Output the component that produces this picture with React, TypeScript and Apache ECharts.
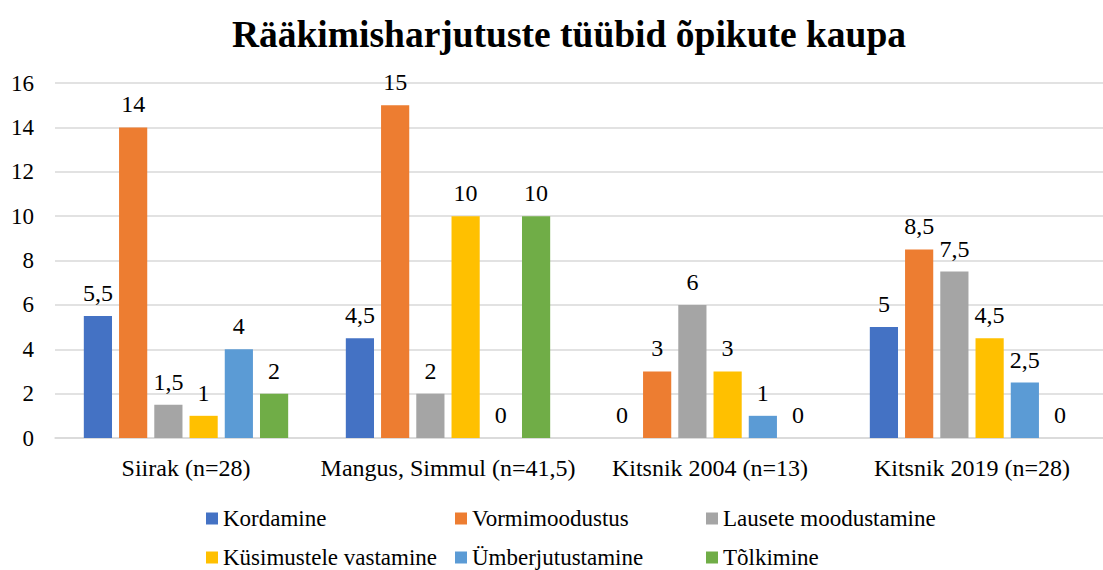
import React, { useEffect, useRef } from "react";
import * as echarts from "echarts";

const categories = ["Siirak (n=28)", "Mangus, Simmul (n=41,5)", "Kitsnik 2004 (n=13)", "Kitsnik 2019 (n=28)"];
const seriesNames = ["Kordamine", "Vormimoodustus", "Lausete moodustamine", "Küsimustele vastamine", "Ümberjutustamine", "Tõlkimine"];
const kordamine = [5.5, 4.5, 0, 5];
const vormimoodustus = [14, 15, 3, 8.5];
const lausete = [1.5, 2, 6, 7.5];
const kusimustele = [1, 10, 3, 4.5];
const umberjutustamine = [4, 0, 1, 2.5];
const tolkimine = [2, 10, 0, 0];
const colors = ["#4472C4", "#ED7D31", "#A5A5A5", "#FFC000", "#5B9BD5", "#70AD47"];
const title = "Rääkimisharjutuste tüübid õpikute kaupa";

const FONT = "Liberation Serif";

export default function App() {
  const ref = useRef<HTMLDivElement>(null);
  useEffect(() => {
    document.body.style.margin = "0";
    const chart = echarts.init(ref.current!, null, { renderer: "svg" });
    const values = [kordamine, vormimoodustus, lausete, kusimustele, umberjutustamine, tolkimine];
    const legendPos = [
      { left: 206, top: 507 },
      { left: 455, top: 507 },
      { left: 706, top: 507 },
      { left: 206, top: 546 },
      { left: 455, top: 546 },
      { left: 706, top: 546 },
    ];
    chart.setOption({
      animation: false,
      color: colors,
      textStyle: { fontFamily: FONT },
      title: {
        text: title,
        left: 564,
        top: 10,
        textAlign: "center",
        textStyle: { fontFamily: FONT, fontSize: 37.5, fontWeight: "bold", color: "#000" },
      },
      legend: seriesNames.map((n, i) => ({
        data: [n],
        left: legendPos[i].left,
        top: legendPos[i].top,
        padding: 0,
        itemWidth: 12,
        itemHeight: 12,
        itemGap: 0,
        icon: "rect",
        textStyle: { fontFamily: FONT, fontSize: 23, color: "#000" },
        selectedMode: false,
      })),
      grid: { left: 55, top: 83, width: 1058, bottom: 132, containLabel: false },
      xAxis: {
        type: "category",
        data: categories,
        axisTick: { show: false },
        axisLine: { lineStyle: { color: "#D9D9D9", width: 1.5 } },
        axisLabel: { fontFamily: FONT, fontSize: 24, color: "#000", margin: 18, interval: 0 },
      },
      yAxis: {
        type: "value",
        min: 0,
        max: 16,
        interval: 2,
        axisLine: { show: false },
        axisTick: { show: false },
        splitLine: { lineStyle: { color: "#D9D9D9", width: 1.5 } },
        axisLabel: { fontFamily: FONT, fontSize: 23, color: "#000", margin: 21 },
      },
      series: seriesNames.map((n, i) => ({
        name: n,
        type: "bar",
        data: values[i],
        barGap: "25%",
        barCategoryGap: "22%",
        label: {
          show: true,
          position: "top",
          distance: 11,
          fontFamily: FONT,
          fontSize: 24,
          color: "#000",
          formatter: (p: any) => String(p.value).replace(".", ","),
        },
      })),
    });
    return () => chart.dispose();
  }, []);
  return <div ref={ref} style={{ width: 1103, height: 570 }} />;
}
